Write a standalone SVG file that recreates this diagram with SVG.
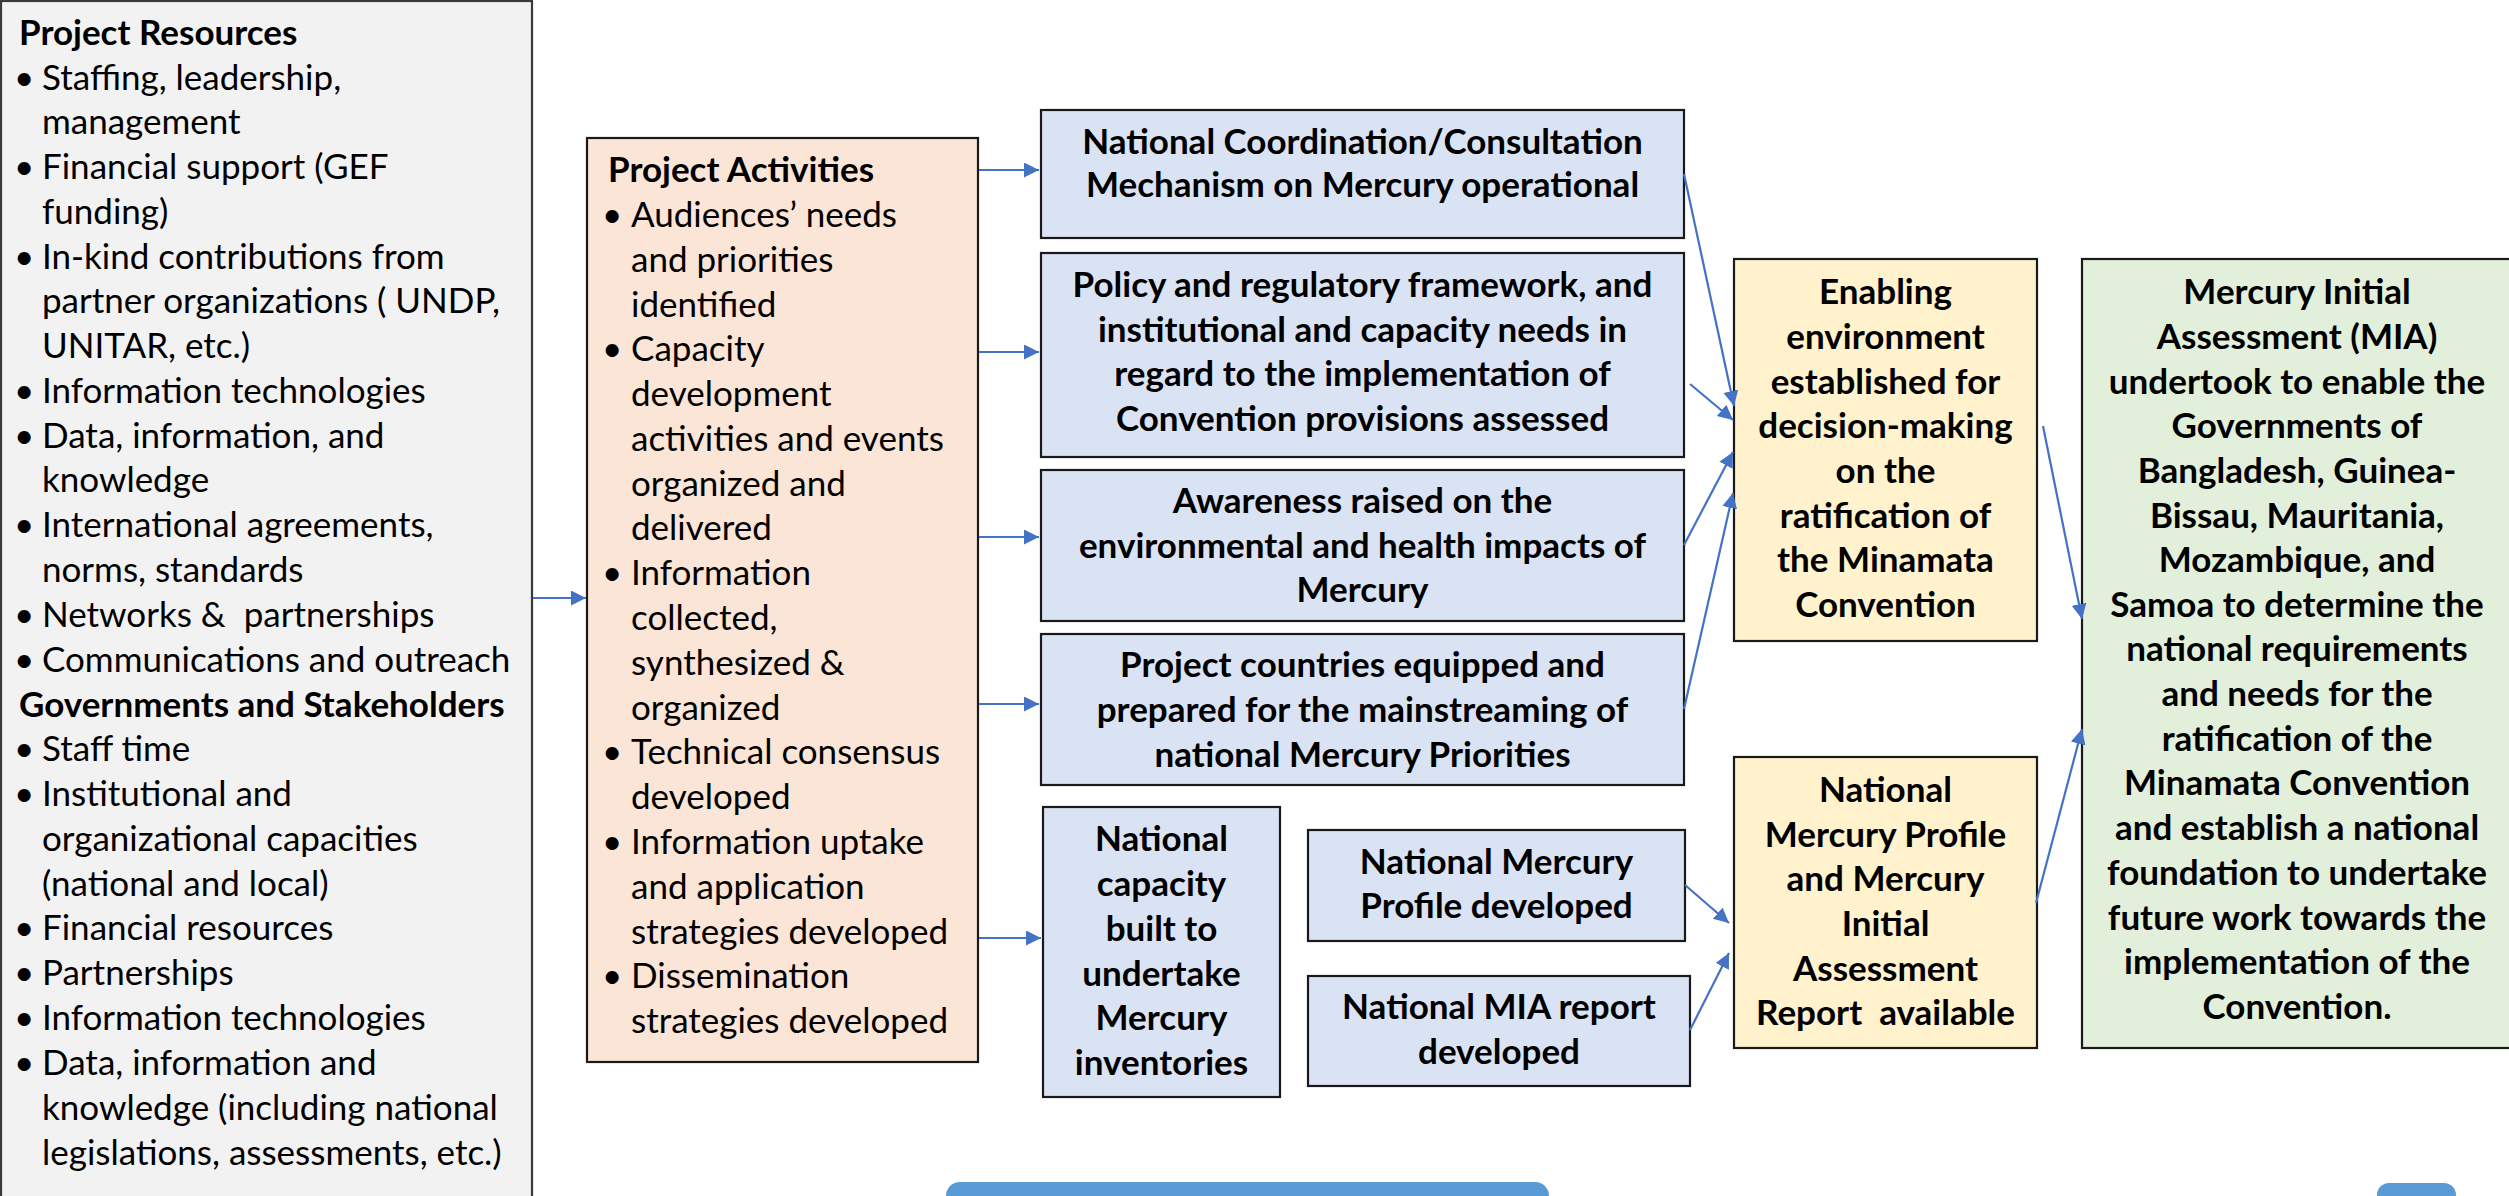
<svg xmlns="http://www.w3.org/2000/svg" width="2509" height="1196" viewBox="0 0 2509 1196">
  <style>
    .box { stroke: #1a1a1a; stroke-width: 2.2; }
    .res { fill: #F2F2F2; stroke: #3a3a3a; stroke-width: 2.2; }
    .act { fill: #FBE5D6; }
    .out { fill: #DAE3F3; }
    .mid { fill: #FFF2CC; }
    .goal { fill: #E2EFDA; }
    text { font-family: Lato, Carlito, Calibri, "Open Sans", sans-serif; font-size: 35px; fill: #000; }
    .b { font-weight: bold; }
    .c { text-anchor: middle; font-weight: bold; }
    .conn line { stroke: #4472C4; stroke-width: 2.2; fill: none; marker-end: url(#head); }
    .bar { fill: #5B9BD5; }
  </style>
  <defs>
    <marker id="head" markerUnits="userSpaceOnUse" markerWidth="16" markerHeight="16" refX="15" refY="7.5" orient="auto">
      <path d="M0,0 L15,7.5 L0,15 z" fill="#4472C4"/>
    </marker>
  </defs>

  <rect width="2509" height="1196" fill="#FFFFFF"/>

  <!-- Inputs: resources -->
  <g id="resources">
    <rect class="res" x="1" y="1" width="531" height="1220"/>
    <text x="19" y="45" class="b">Project Resources</text>
    <text x="14" y="90">•</text><text x="42" y="90">Staffing, leadership,</text>
    <text x="42" y="134">management</text>
    <text x="14" y="179">•</text><text x="42" y="179">Financial support (GEF</text>
    <text x="42" y="224">funding)</text>
    <text x="14" y="269">•</text><text x="42" y="269">In-kind contributions from</text>
    <text x="42" y="313">partner organizations ( UNDP,</text>
    <text x="42" y="358">UNITAR, etc.)</text>
    <text x="14" y="403">•</text><text x="42" y="403">Information technologies</text>
    <text x="14" y="448">•</text><text x="42" y="448">Data, information, and</text>
    <text x="42" y="492">knowledge</text>
    <text x="14" y="537">•</text><text x="42" y="537">International agreements,</text>
    <text x="42" y="582">norms, standards</text>
    <text x="14" y="627">•</text><text x="42" y="627">Networks &amp;&#160; partnerships</text>
    <text x="14" y="672">•</text><text x="42" y="672">Communications and outreach</text>
    <text x="19" y="717" class="b">Governments and Stakeholders</text>
    <text x="14" y="761">•</text><text x="42" y="761">Staff time</text>
    <text x="14" y="806">•</text><text x="42" y="806">Institutional and</text>
    <text x="42" y="851">organizational capacities</text>
    <text x="42" y="896">(national and local)</text>
    <text x="14" y="940">•</text><text x="42" y="940">Financial resources</text>
    <text x="14" y="985">•</text><text x="42" y="985">Partnerships</text>
    <text x="14" y="1030">•</text><text x="42" y="1030">Information technologies</text>
    <text x="14" y="1075">•</text><text x="42" y="1075">Data, information and</text>
    <text x="42" y="1120">knowledge (including national</text>
    <text x="42" y="1165">legislations, assessments, etc.)</text>
  </g>

  <!-- Activities -->
  <g id="activities">
    <rect class="box act" x="587" y="138" width="391" height="924"/>
    <text x="608" y="182" class="b">Project Activities</text>
    <text x="602" y="227">•</text><text x="631" y="227">Audiences’ needs</text>
    <text x="631" y="272">and priorities</text>
    <text x="631" y="317">identified</text>
    <text x="602" y="361">•</text><text x="631" y="361">Capacity</text>
    <text x="631" y="406">development</text>
    <text x="631" y="451">activities and events</text>
    <text x="631" y="496">organized and</text>
    <text x="631" y="540">delivered</text>
    <text x="602" y="585">•</text><text x="631" y="585">Information</text>
    <text x="631" y="630">collected,</text>
    <text x="631" y="675">synthesized &amp;</text>
    <text x="631" y="720">organized</text>
    <text x="602" y="764">•</text><text x="631" y="764">Technical consensus</text>
    <text x="631" y="809">developed</text>
    <text x="602" y="854">•</text><text x="631" y="854">Information uptake</text>
    <text x="631" y="899">and application</text>
    <text x="631" y="944">strategies developed</text>
    <text x="602" y="988">•</text><text x="631" y="988">Dissemination</text>
    <text x="631" y="1033">strategies developed</text>
  </g>

  <!-- Outputs -->
  <g id="out-coordination">
    <rect class="box out" x="1041" y="110" width="643" height="128"/>
    <text x="1362.5" y="154" class="c">National Coordination/Consultation</text>
    <text x="1362.5" y="197" class="c">Mechanism on Mercury operational</text>
  </g>
  <g id="out-policy">
    <rect class="box out" x="1041" y="253" width="643" height="204"/>
    <text x="1362.5" y="297" class="c">Policy and regulatory framework, and</text>
    <text x="1362.5" y="342" class="c">institutional and capacity needs in</text>
    <text x="1362.5" y="386" class="c">regard to the implementation of</text>
    <text x="1362.5" y="431" class="c">Convention provisions assessed</text>
  </g>
  <g id="out-awareness">
    <rect class="box out" x="1041" y="470" width="643" height="151"/>
    <text x="1362.5" y="513" class="c">Awareness raised on the</text>
    <text x="1362.5" y="558" class="c">environmental and health impacts of</text>
    <text x="1362.5" y="602" class="c">Mercury</text>
  </g>
  <g id="out-mainstreaming">
    <rect class="box out" x="1041" y="634" width="643" height="151"/>
    <text x="1362.5" y="677" class="c">Project countries equipped and</text>
    <text x="1362.5" y="722" class="c">prepared for the mainstreaming of</text>
    <text x="1362.5" y="767" class="c">national Mercury Priorities</text>
  </g>
  <g id="out-inventories">
    <rect class="box out" x="1043" y="807" width="237" height="290"/>
    <text x="1161.5" y="851" class="c">National</text>
    <text x="1161.5" y="896" class="c">capacity</text>
    <text x="1161.5" y="941" class="c">built to</text>
    <text x="1161.5" y="986" class="c">undertake</text>
    <text x="1161.5" y="1030" class="c">Mercury</text>
    <text x="1161.5" y="1075" class="c">inventories</text>
  </g>
  <g id="out-profile">
    <rect class="box out" x="1308" y="830" width="377" height="111"/>
    <text x="1496.5" y="874" class="c">National Mercury</text>
    <text x="1496.5" y="918" class="c">Profile developed</text>
  </g>
  <g id="out-report">
    <rect class="box out" x="1308" y="976" width="382" height="110"/>
    <text x="1499" y="1019" class="c">National MIA report</text>
    <text x="1499" y="1064" class="c">developed</text>
  </g>

  <!-- Outcomes -->
  <g id="outcome-enabling">
    <rect class="box mid" x="1734" y="259" width="303" height="382"/>
    <text x="1885.5" y="304" class="c">Enabling</text>
    <text x="1885.5" y="349" class="c">environment</text>
    <text x="1885.5" y="394" class="c">established for</text>
    <text x="1885.5" y="438" class="c">decision-making</text>
    <text x="1885.5" y="483" class="c">on the</text>
    <text x="1885.5" y="528" class="c">ratification of</text>
    <text x="1885.5" y="572" class="c">the Minamata</text>
    <text x="1885.5" y="617" class="c">Convention</text>
  </g>
  <g id="outcome-profile">
    <rect class="box mid" x="1734" y="757" width="303" height="291"/>
    <text x="1885.5" y="802" class="c">National</text>
    <text x="1885.5" y="847" class="c">Mercury Profile</text>
    <text x="1885.5" y="891" class="c">and Mercury</text>
    <text x="1885.5" y="936" class="c">Initial</text>
    <text x="1885.5" y="981" class="c">Assessment</text>
    <text x="1885.5" y="1025" class="c">Report&#160; available</text>
  </g>

  <!-- Impact -->
  <g id="impact">
    <rect class="box goal" x="2082" y="259" width="432" height="789"/>
    <text x="2297" y="304" class="c">Mercury Initial</text>
    <text x="2297" y="349" class="c">Assessment (MIA)</text>
    <text x="2297" y="394" class="c">undertook to enable the</text>
    <text x="2297" y="438" class="c">Governments of</text>
    <text x="2297" y="483" class="c">Bangladesh, Guinea-</text>
    <text x="2297" y="528" class="c">Bissau, Mauritania,</text>
    <text x="2297" y="572" class="c">Mozambique, and</text>
    <text x="2297" y="617" class="c">Samoa to determine the</text>
    <text x="2297" y="661" class="c">national requirements</text>
    <text x="2297" y="706" class="c">and needs for the</text>
    <text x="2297" y="751" class="c">ratification of the</text>
    <text x="2297" y="795" class="c">Minamata Convention</text>
    <text x="2297" y="840" class="c">and establish a national</text>
    <text x="2297" y="885" class="c">foundation to undertake</text>
    <text x="2297" y="930" class="c">future work towards the</text>
    <text x="2297" y="974" class="c">implementation of the</text>
    <text x="2297" y="1019" class="c">Convention.</text>
  </g>

  <!-- Connectors -->
  <g id="connectors" class="conn">
    <line x1="533" y1="598" x2="586" y2="598"/>
    <line x1="979" y1="170" x2="1039" y2="170"/>
    <line x1="979" y1="352" x2="1039" y2="352"/>
    <line x1="979" y1="537" x2="1039" y2="537"/>
    <line x1="979" y1="704" x2="1039" y2="704"/>
    <line x1="979" y1="938" x2="1041" y2="938"/>
    <line x1="1684" y1="174" x2="1734" y2="406"/>
    <line x1="1690" y1="384" x2="1733" y2="420"/>
    <line x1="1684" y1="545" x2="1733" y2="452"/>
    <line x1="1684" y1="709" x2="1733" y2="493"/>
    <line x1="1685" y1="885" x2="1729" y2="923"/>
    <line x1="1690" y1="1030" x2="1729" y2="953"/>
    <line x1="2043" y1="426" x2="2082" y2="619"/>
    <line x1="2036" y1="903" x2="2082" y2="729"/>
  </g>

  <!-- Bottom tabs -->
  <g id="bottom-tabs">
    <rect class="bar" x="946" y="1182" width="603" height="40" rx="14"/>
    <rect class="bar" x="2377" y="1183" width="79" height="40" rx="12"/>
  </g>
</svg>
